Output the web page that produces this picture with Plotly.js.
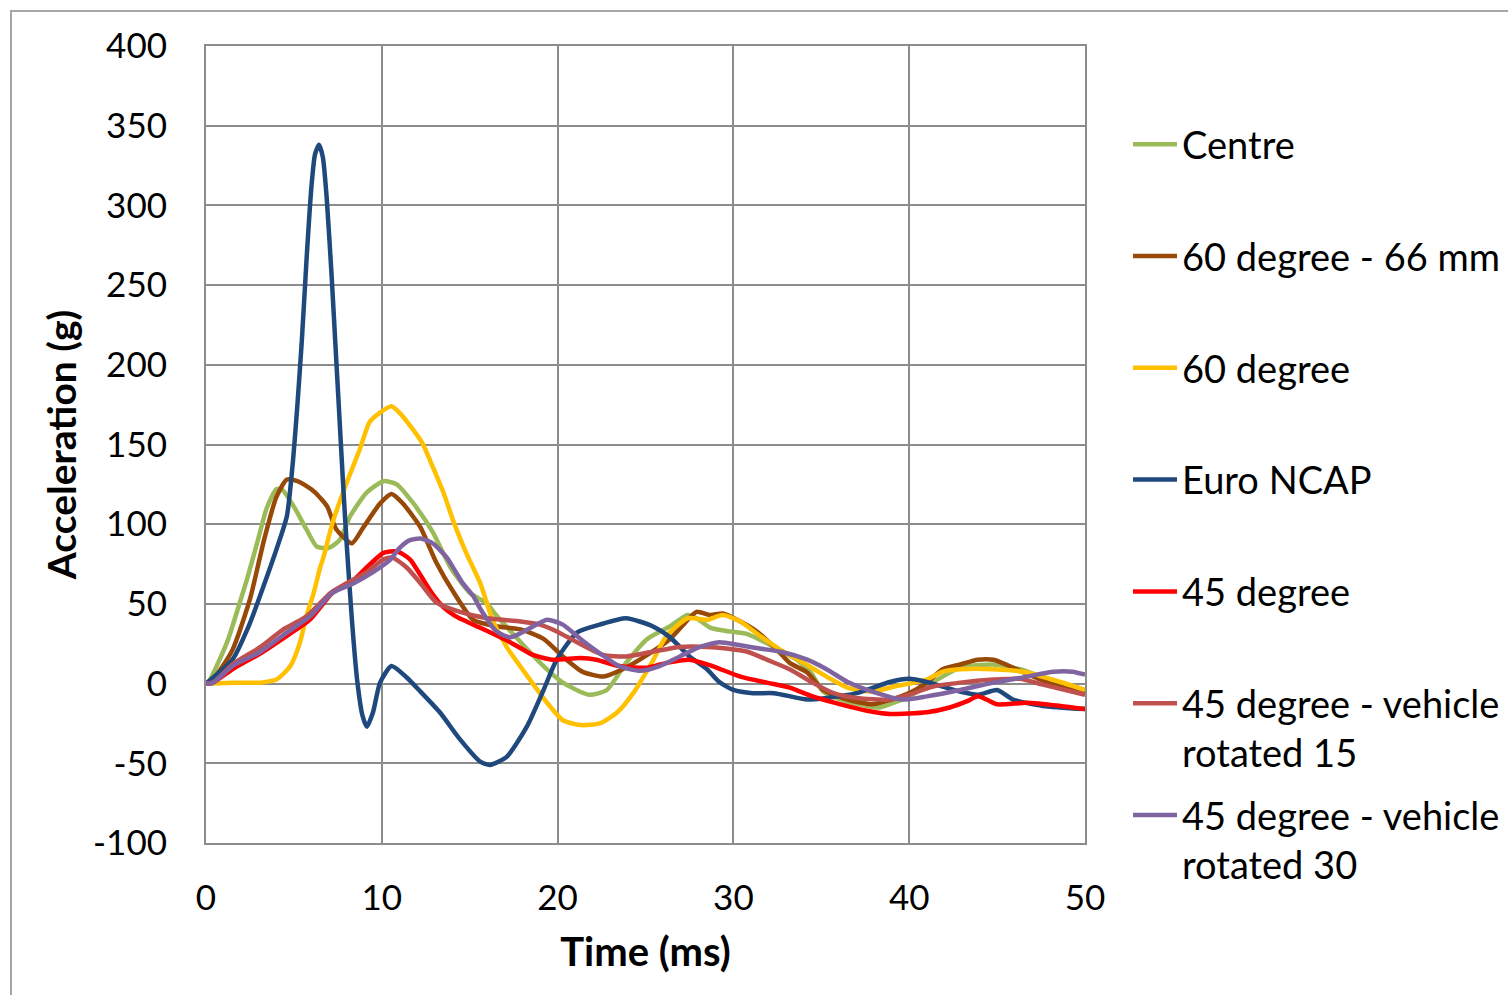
<!DOCTYPE html>
<html><head><meta charset="utf-8">
<script src="https://cdn.plot.ly/plotly-3.0.1.min.js"></script>
<style>
html,body{margin:0;padding:0;background:#fff;overflow:hidden}
#frame{position:absolute;left:10px;top:10px;width:1520px;height:1000px;border-left:2px solid #a6a6a6;border-top:2px solid #a6a6a6}
#chart{position:absolute;left:0;top:0;width:1508px;height:995px}
</style></head><body>
<div id="frame"></div><div id="chart"></div>
<script>
const seriesNames = ['Centre','60 degree - 66 mm','60 degree','Euro NCAP','45 degree','45 degree - vehicle<br>rotated 15','45 degree - vehicle<br>rotated 30'];
const seriesColors = ['#9BBB59','#984807','#FFC000','#1F497D','#FF0000','#C0504D','#8064A2'];

const timeCentre = [0,0.2,1.2,1.9,2.4,3,3.45,4,4.3,5,5.7,6.3,6.95,7.6,8.2,9.15,10.1,10.85,11.8,12.9,13.9,15,16,16.5,17.9,19.2,20.3,21.8,22.8,23.9,25.1,26.4,27.4,27.9,28.7,29.6,30.8,32.3,33.6,34.4,35.1,36.1,37.6,38.3,40,41.6,42.9,44.8,46.3,47.6,50];
const accCentre = [0,2,26,50,68,92,110,122,122,111,97,86,85,90,105,120,127,125,113,95,73,57,50,43,26,11,0.6,-7,-4,13,28,36,43,41,35,33,31,23,15,7,-5,-10,-14,-15,-8,2.5,10,12,9,4,-4];

const time60mm = [0,0.5,1.5,2.5,3.3,4.0,4.6,5.2,5.7,6.2,6.9,7.4,8.3,8.95,9.9,10.55,11.2,12.2,13.1,14.1,15.2,16.5,17.9,19.2,20.3,21.4,22.6,23.7,25.1,26.4,27.4,27.9,28.7,29.4,30.4,31.3,32.5,33.2,34.2,35.1,36.5,37.9,38.7,40,41,41.9,42.9,43.9,44.8,45.7,46.7,48.2,50];
const acc60mm = [0,4,21,53,90,117,128,127,124,120,111,97,88,98,113,119,113,98,76,57,40,36,34,28,17,7.5,4.4,9,18,28,40,45,43,44,39,33,21,13,7,-4,-10,-13,-11,-6,0.6,9,12,15,15,11,6,-0.6,-6];

const time60 = [0,1.5,3.1,4,4.8,5.35,5.7,6.1,6.5,6.7,7.2,8.0,8.75,9.3,9.9,10.55,11.0,11.8,12.3,12.9,13.5,14.1,14.8,15.6,16.3,17.1,18.3,19.4,20.3,21.3,22.4,23.4,24.3,25.4,26.2,27.4,28.5,29.4,30.4,31.5,32.7,34,35.3,36.5,37.9,39.1,41,41.9,42.9,44.8,46.7,48.6,50];
const acc60 = [0,0.6,0.6,2.5,11,26,42,56,73,80,101,126,147,164,170,174,170,159,151,136,120,101,82,63,40,23,4.4,-12,-23,-26,-25,-18,-6,14,30,41,40,43,39,30,21,13,4.4,-2.5,-5,-2,2.5,7.5,9,9,7,1,-4];

const timeNcap = [0,1.5,2.5,3.3,4,4.6,4.95,5.2,5.45,5.73,6.0,6.2,6.43,6.65,6.87,7.15,7.35,7.6,7.8,8.0,8.3,8.6,8.9,9.15,9.5,9.9,10.55,11.4,12.2,13.3,14.45,15.6,16.15,17.1,18.25,19.2,19.95,21.1,22.4,23.9,25.4,26.4,27.5,28.5,29.2,30,31.1,32.3,34.2,35.3,37,38.9,40,41,42.9,43.9,45,45.9,47.6,50];
const accNcap = [0,15,38,62,84,105,140,175,215,268,312,332,338,330,304,255,215,165,125,88,40,2,-20,-27,-18,0.6,11,4,-5,-18,-35,-49,-51,-46,-27,-4,15,32,37,41,36,29,17,9,1,-4,-6,-6,-10,-9,-6,1,3,1,-5,-7,-4,-10,-14,-16];

const time45 = [0,0.4,1.5,3.1,4.6,5.9,7.2,8.4,9.15,10.1,10.85,11.6,12.2,12.9,13.5,14.1,14.6,15.6,17.3,18.6,19.7,21.3,22.2,23.5,25.1,26.2,27.5,28.8,30.4,31.9,33.2,34.5,36.1,37.6,38.9,41,42.3,43.3,43.9,44.4,45,46.7,48.6,50];
const acc45 = [0,0.6,9,19,30,40,57,65,73,82,83,78,68,56,48,43,40,35,26,18,15,16,15,11,10,13,15,11,4.4,0.6,-2.5,-8,-13,-17,-19,-18,-15,-11,-8,-10,-13,-12,-14,-16];

const time45r15 = [0,0.4,1.5,3.1,4.4,5.7,7.1,8,9.15,10.1,10.6,11.4,12.2,13.1,14.45,16,17.9,19.0,19.9,21.1,22.6,23.9,25.4,26.95,28.5,29.6,30.8,31.9,33.2,34.5,35.7,37,38.9,40,41.3,42.9,44.8,46.3,47.6,50];
const acc45r15 = [0,0.6,12,23,34,42,57,63,70,78,79,73,63,51,45,41,39,37,33,26,18,17,20,23,23,22,20,15,9,0.6,-6,-9,-10,-7,-2,0.6,2.5,3,-0.6,-7];

const time45r30 = [0,0.4,1.5,3.1,4.6,5.9,7.2,8.4,9.5,10.5,11,11.6,12.2,12.9,13.7,14.1,14.6,15.2,15.6,16.5,17.3,18.3,19.4,20.3,21.3,22.4,23.5,24.7,25.8,26.95,28.1,29.2,30.4,31.5,32.7,34.2,35.3,36.5,37.9,39.6,41,42.9,44.8,46.7,48.2,49.3,50];
const acc45r30 = [0,0.6,11,20,32,42,57,63,70,78,85,90,91,88,79,72,63,55,47,33,29,34,40,37,28,19,11,8,11,17,23,26,24,22,20,15,9,1,-5,-10,-8,-4,0.6,4.4,7.5,7.5,5.6];

const xTickVals = [0,10,20,30,40,50];
const yTickVals = [-100,-50,0,50,100,150,200,250,300,350,400];

const allTimes = [timeCentre,time60mm,time60,timeNcap,time45,time45r15,time45r30];
const allAcc = [accCentre,acc60mm,acc60,accNcap,acc45,acc45r15,acc45r30];

const labels = seriesNames.map(n => n.indexOf('<br>') >= 0 ? n : n + '<br>\u00a0');

const traces = allTimes.map((t,i) => ({
  x: t, y: allAcc[i], type:'scatter', mode:'lines', name: labels[i],
  legendgroup: 'g'+i,
  line:{color: seriesColors[i], width:4.5, shape:'spline', smoothing:0.6}
}));

const gridC = '#8c8c8c';
const layout = {
  width:1508, height:995,
  margin:{l:206, r:423, t:46, b:152},
  paper_bgcolor:'rgba(0,0,0,0)', plot_bgcolor:'#ffffff',
  font:{family:'Lato, sans-serif', size:34, color:'#000'},
  showlegend:true,
  xaxis:{range:[0,50], tickvals:xTickVals, ticktext:xTickVals.map(String),
    showgrid:true, gridcolor:gridC, gridwidth:2, zeroline:false,
    showline:true, linecolor:gridC, linewidth:2, mirror:true, ticks:'',
    ticklabelstandoff:23, tickfont:{size:35},
    title:{text:'<b>Time (ms)</b>', font:{size:40}, standoff:22}},
  yaxis:{range:[-100,400], tickvals:yTickVals, ticktext:yTickVals.map(String),
    showgrid:true, gridcolor:gridC, gridwidth:2, zeroline:false,
    showline:true, linecolor:gridC, linewidth:2, mirror:true, ticks:'',
    ticklabelstandoff:30, tickfont:{size:35},
    title:{text:'<b>Acceleration (g)</b>', font:{size:39}, standoff:4}},
  legend:{xref:'container', yref:'container', x:1128/1508, xanchor:'left',
    y:1-113/995, yanchor:'top', valign:'top', traceorder:'grouped', tracegroupgap:10,
    maxheight:950,
    itemwidth:44, bgcolor:'rgba(0,0,0,0)', font:{size:38}}
};

Plotly.newPlot('chart', traces, layout, {staticPlot:true, displayModeBar:false});
</script>
</body></html>
